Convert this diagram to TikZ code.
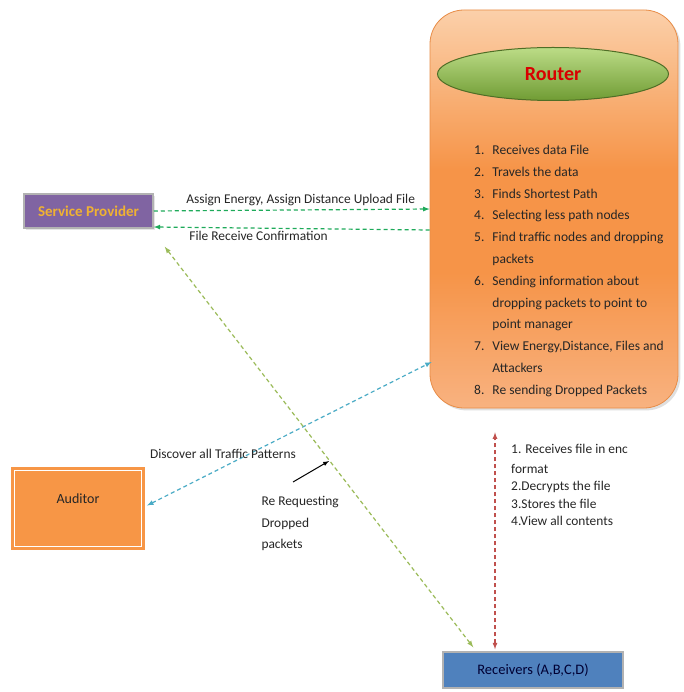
\documentclass[tikz,border=0pt]{standalone}
\usepackage{fontspec}
\setmainfont{Carlito}
\usetikzlibrary{shapes.geometric,shadows}

\definecolor{routerTop}{RGB}{251,208,170}
\definecolor{routerBot}{RGB}{246,148,72}
\definecolor{routerLow}{RGB}{248,178,128}
\definecolor{routerEdge}{RGB}{232,140,70}
\definecolor{ovalTop}{RGB}{188,220,135}
\definecolor{ovalBot}{RGB}{112,156,52}
\definecolor{ovalEdge}{RGB}{79,110,38}
\definecolor{spFill}{RGB}{128,100,162}
\definecolor{spText}{RGB}{240,178,50}
\definecolor{audFill}{RGB}{247,150,70}
\definecolor{recvFill}{RGB}{79,129,189}
\definecolor{gArrow}{RGB}{30,170,90}
\definecolor{bArrow}{RGB}{75,172,198}
\definecolor{oArrow}{RGB}{155,187,89}
\definecolor{rArrow}{RGB}{192,80,77}
\pgfdeclareverticalshading{routershade}{100bp}{color(0bp)=(routerLow); color(25bp)=(routerLow);
  color(42bp)=(routerBot); color(55bp)=(routerBot); color(75bp)=(routerTop); color(100bp)=(routerTop)}

\begin{document}
\begin{tikzpicture}[x=1pt,y=-1pt,>=latex]
\tikzset{dline/.style={line width=1.2pt,dash pattern=on 4pt off 3pt},
  lbl/.style={font=\fontsize{13.4}{15}\selectfont,text=black!85}}
\useasboundingbox[fill=white] (0,0) rectangle (683,692);
\node[draw=routerEdge,line width=0.8pt,rounded corners=34pt,shade,shading=routershade,
  minimum width=248pt,minimum height=398pt,drop shadow={opacity=0.25}] (router) at (554,209) {};
\node[ellipse,draw=ovalEdge,line width=1pt,top color=ovalTop,bottom color=ovalBot,minimum width=231pt,
  minimum height=53pt,text=red!85!black,font=\fontsize{20}{22}\selectfont\bfseries] (title) at (553,74) {Router};
\node[anchor=north west,font=\fontsize{13.5}{21.8}\selectfont,text=black!85,inner sep=0pt] (steps) at (474,139) {%
  \begin{tabular}{@{}l@{\hspace{8pt}}l@{}}
  1. & Receives data File\\
  2. & Travels the data\\
  3. & Finds Shortest Path\\
  4. & Selecting less path nodes\\
  5. & Find traffic nodes and dropping\\
     & packets\\
  6. & Sending information about\\
     & dropping packets to point to\\
     & point manager\\
  7. & View Energy,Distance, Files and\\
     & Attackers\\
  8. & Re sending Dropped Packets
  \end{tabular}};
\node[draw=gray!60,line width=1.5pt,fill=spFill,minimum width=129pt,minimum height=34pt,
  text=spText,font=\fontsize{15}{17}\selectfont\bfseries,drop shadow={opacity=0.2}] (sp) at (88.5,211) {Service Provider};
\node[draw=audFill,line width=3pt,double=white,double distance=1.2pt,fill=audFill,minimum width=127pt,
  minimum height=76pt,label={[yshift=10pt,font=\fontsize{14}{16}\selectfont,text=black!85]center:Auditor}] (aud) at (78,508.5) {};
\node[draw=gray!60,line width=1.5pt,fill=recvFill,minimum width=180pt,minimum height=36pt,
  text=black!80!blue,font=\fontsize{14.5}{16}\selectfont] (recv) at (533,670) {Receivers (A,B,C,D)};
\draw[dline,gArrow,->] (sp.east) -- (router.west) node[lbl,midway,above,xshift=9pt,yshift=0pt] {Assign Energy, Assign Distance Upload File};
\draw[dline,gArrow,->] ([yshift=-21pt]router.west) -- ([yshift=-16pt]sp.east) node[lbl,pos=0.62,below,yshift=1pt] {File Receive Confirmation};
\draw[dline,bArrow,<->] ([xshift=4pt,yshift=3pt]aud.east) -- ([xshift=2pt,yshift=-153pt]router.west);
\node[lbl] (discover) at (223,454) {Discover all Traffic Patterns};
\draw[dline,oArrow,<->] ([xshift=11pt,yshift=-18pt]sp.south east) -- ([xshift=31pt,yshift=4pt]recv.north west);
\draw[dline,rArrow,<->] ([xshift=-38pt,yshift=2pt]recv.north) -- ([xshift=-59pt,yshift=-24pt]router.south);
\node[lbl,anchor=north west,align=left,font=\fontsize{13.4}{21.5}\selectfont] (rereq) at (258,493) {Re Requesting\\Dropped\\packets};
\coordinate (rq0) at (293,482);
\coordinate (rq1) at (329,461);
\draw[line width=1pt,->] (rq0) -- (rq1);
\node[lbl,anchor=north west,align=left,font=\fontsize{13.4}{17.5}\selectfont,inner sep=0pt] (recvsteps) at (511,444)
  {1. Receives file in enc\\[2pt]format\\2.Decrypts the file\\3.Stores the file\\4.View all contents};
\end{tikzpicture}
\end{document}
